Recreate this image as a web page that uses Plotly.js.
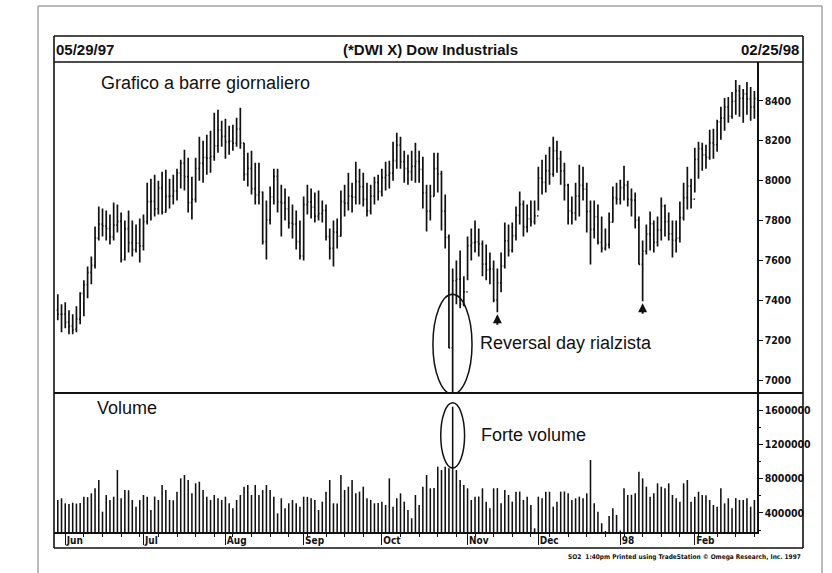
<!DOCTYPE html>
<html><head><meta charset="utf-8">
<script src="https://cdn.plot.ly/plotly-3.0.1.min.js"></script>
<style>html,body{margin:0;padding:0;background:#fff;}#chart{width:832px;height:573px;}</style>
</head><body><div id="chart"></div>
<script>
// Daily bars 05/29/97 - 02/25/98 (one entry per trading day)
const openP = [7350,7330,7330,7290,7270,7255,7305,7435,7478,7539,
7575,7712,7782,7773,7760,7718,7777,7796,7604,7758,
7689,7654,7687,7673,7795,7895,7896,7858,7962,7842,
7921,7922,7948,8038,8088,8020,7890,7906,8061,8088,
8116,8113,8121,8174,8254,8222,8194,8198,8188,8259,
8188,8031,8062,7960,7928,7943,7694,7803,7918,8021,
7893,7887,7859,7787,7782,7694,7622,7880,7894,7867,
7822,7835,7851,7719,7660,7742,7721,7895,7886,7922,
7917,7996,7970,7906,7848,7922,7991,7945,8015,8027,
8038,8100,8178,8095,8061,8045,8072,8096,8057,7938,
7847,7921,8060,8034,7847,7715,7161,7498,7506,7381,
7442,7674,7689,7693,7683,7581,7552,7558,7401,7487,
7572,7698,7650,7724,7826,7881,7767,7808,7794,7823,
8013,7991,8050,8032,8149,8110,8049,7978,7848,7838,
7922,7976,7957,7846,7756,7819,7691,7660,7679,7792,
7915,7908,7965,7978,7906,7902,7802,7580,7647,7732,
7784,7691,7753,7873,7794,7733,7700,7712,7815,7915,
7973,7907,8107,8160,8129,8117,8189,8180,8295,8314,
8369,8323,8398,8451,8413,8435,8410,8370];
const highP = [7430,7380,7390,7350,7330,7370,7440,7500,7570,7620,
7770,7870,7860,7850,7830,7890,7880,7840,7800,7850,
7800,7780,7810,7830,7990,8010,8030,8000,8045,8055,
8010,8030,8060,8105,8155,8115,8020,8115,8220,8200,
8230,8250,8340,8355,8300,8310,8275,8280,8315,8365,
8190,8140,8150,8090,8090,7945,7900,7970,8060,8060,
7980,7960,7920,7880,7850,7800,7920,7980,7960,7940,
7950,7900,7880,7760,7800,7810,7950,7980,8040,7990,
8095,8060,8040,7990,7980,8020,8030,8060,8095,8100,
8195,8240,8220,8150,8130,8150,8190,8150,8120,7980,
7980,8140,8140,8050,7930,7730,7560,7600,7650,7520,
7720,7760,7800,7760,7700,7680,7640,7600,7560,7640,
7790,7780,7790,7870,7945,7900,7880,7900,7900,8070,
8105,8130,8170,8220,8200,8150,8090,7985,7920,7990,
8080,8070,7990,7900,7900,7880,7820,7760,7840,7970,
7990,8005,8075,8000,7960,7940,7820,7700,7780,7845,
7800,7820,7915,7880,7840,7800,7800,7895,7990,8070,
8010,8165,8195,8190,8180,8255,8260,8305,8370,8415,
8420,8445,8505,8480,8460,8495,8470,8450];
const lowP = [7300,7240,7260,7230,7230,7240,7280,7320,7410,7480,
7560,7700,7720,7700,7680,7700,7740,7590,7600,7640,
7620,7640,7590,7650,7780,7800,7820,7830,7830,7840,
7860,7880,7900,7960,7950,7840,7805,7890,8000,7990,
8030,8040,8100,8140,8170,8110,8130,8150,8170,8160,
8000,7970,7930,7880,7880,7680,7605,7780,7880,7840,
7720,7800,7760,7710,7655,7605,7600,7830,7810,7790,
7800,7790,7700,7605,7570,7660,7720,7820,7850,7840,
7880,7880,7870,7820,7830,7880,7900,7920,7950,7960,
8000,8060,8060,7990,7980,8000,7990,7990,7860,7745,
7800,7920,7940,7750,7660,7160,6940,7380,7360,7370,
7500,7600,7640,7620,7520,7500,7480,7390,7340,7440,
7560,7620,7640,7700,7780,7720,7740,7770,7780,7850,
7930,7940,7980,8020,8040,7980,7900,7780,7780,7800,
7820,7900,7740,7580,7710,7680,7640,7650,7660,7790,
7880,7880,7900,7870,7820,7760,7580,7395,7630,7650,
7640,7670,7700,7720,7700,7615,7640,7690,7800,7855,
7860,7940,8010,8050,8060,8105,8110,8145,8205,8250,
8290,8310,8330,8320,8290,8330,8300,8310];
const closeP = [7330,7331,7289,7269,7251,7305,7435,7478,7539,7575,
7712,7782,7773,7760,7718,7777,7796,7604,7758,7689,
7654,7687,7673,7795,7895,7896,7858,7962,7842,7921,
7922,7948,8038,8088,8020,7890,7906,8061,8088,8116,
8113,8121,8174,8254,8222,8194,8198,8188,8259,8188,
8031,8062,7960,7928,7943,7694,7803,7918,8021,7893,
7887,7859,7787,7782,7694,7622,7880,7894,7867,7822,
7835,7851,7719,7660,7742,7721,7895,7886,7922,7917,
7996,7970,7906,7848,7922,7991,7945,8015,8027,8038,
8100,8178,8095,8061,8045,8072,8096,8057,7938,7847,
7921,8060,8034,7847,7715,7161,7498,7506,7381,7442,
7674,7689,7693,7683,7581,7552,7558,7401,7487,7572,
7698,7650,7724,7826,7881,7767,7808,7794,7823,8013,
7991,8050,8032,8149,8110,8049,7978,7848,7838,7922,
7976,7957,7846,7756,7819,7691,7660,7679,7792,7915,
7908,7965,7978,7906,7902,7802,7580,7647,7732,7784,
7691,7753,7873,7794,7733,7700,7712,7815,7915,7973,
7907,8107,8160,8129,8117,8189,8180,8295,8314,8369,
8323,8398,8451,8413,8435,8410,8370,8413];
const volume = [552000,571000,513000,505000,520000,510000,515000,590000,585000,629000,
688000,785000,415000,610000,552000,590000,901000,571000,668000,665000,
552000,474000,550000,610000,590000,435000,592000,552000,727000,668000,
552000,548000,649000,804000,843000,785000,629000,746000,765000,668000,
590000,552000,610000,571000,552000,590000,513000,455000,552000,610000,
707000,727000,610000,727000,610000,668000,727000,668000,590000,396000,
571000,455000,513000,552000,513000,474000,590000,588000,571000,552000,
435000,532000,649000,785000,513000,510000,843000,668000,707000,785000,
629000,649000,707000,571000,552000,513000,515000,532000,493000,804000,
474000,571000,629000,532000,435000,338000,610000,493000,707000,843000,
688000,690000,940000,901000,940000,921000,1640000,901000,785000,727000,
688000,552000,590000,592000,688000,532000,455000,688000,690000,513000,
668000,610000,532000,649000,650000,552000,590000,493000,221000,590000,
571000,649000,648000,474000,532000,649000,651000,629000,552000,571000,
590000,573000,629000,1018000,513000,415000,280000,190000,365000,455000,
377000,195000,688000,610000,612000,629000,882000,804000,707000,590000,
629000,746000,707000,688000,746000,610000,571000,532000,746000,785000,
532000,590000,649000,610000,608000,552000,493000,474000,688000,513000,
571000,455000,573000,552000,550000,571000,474000,552000];

// Axis labels
const monthTickIdx = [2,23,45,66,87,110,129,151,171];
const monthLabels = ['Jun','Jul','Aug','Sep','Oct','Nov','Dec','98','Feb'];
const arrowIdx = [118,157];

const dayIdx = openP.map((_, i) => i);
const revIdx = lowP.indexOf(Math.min(...lowP));

// pixel -> paper helpers for decorations (plot area: x 54..757, y 62..532)
const PX = x => (x - 54) / 703;
const PY = y => (532 - y) / 470;

const FONT = 'Liberation Sans, Arial, Helvetica, sans-serif';
const TICKFONT = 'DejaVu Sans Condensed, Liberation Sans Narrow, Arial Narrow, sans-serif';

const traces = [
  {
    type: 'ohlc', x: dayIdx, open: openP, high: highP, low: lowP, close: closeP,
    xaxis: 'x', yaxis: 'y', tickwidth: 0.3, hoverinfo: 'skip',
    increasing: {line: {color: '#111', width: 1.7}},
    decreasing: {line: {color: '#111', width: 1.7}}
  },
  {
    type: 'bar', x: dayIdx, y: volume, xaxis: 'x', yaxis: 'y2', width: 0.42,
    marker: {color: '#111', line: {width: 0}}, hoverinfo: 'skip'
  }
];

const line = (x0, y0, x1, y1, w, c) => ({type: 'line', xref: 'paper', yref: 'paper',
  x0: PX(x0), y0: PY(y0), x1: PX(x1), y1: PY(y1), line: {color: c || '#111', width: w}});

const shapes = [
  // page outline
  line(38, 6, 822, 6, 1, '#777'), line(38, 6, 38, 573, 1, '#777'), line(822, 6, 822, 573, 1, '#777'),
  // chart frame
  line(54, 36, 803, 36, 1.6), line(54, 36, 54, 548, 1.6), line(803, 36, 803, 548, 1.6),
  line(54, 548, 803, 548, 1.6), line(54, 62, 803, 62, 1.6), line(54, 393, 803, 393, 2),
  // ellipses
  {type: 'circle', xref: 'x', yref: 'y', x0: revIdx - 5.3, x1: revIdx + 5.2,
   y0: lowP[revIdx] - 10, y1: lowP[revIdx] + 490, line: {color: '#111', width: 1.5}},
  {type: 'circle', xref: 'x', yref: 'y2', x0: revIdx - 3.2, x1: revIdx + 3.2,
   y0: volume[revIdx] - 715000, y1: volume[revIdx] + 45000, line: {color: '#111', width: 1.5}}
];

const ann = (x, y, text, size, anchor, weight) => ({xref: 'paper', yref: 'paper', x: PX(x), y: PY(y),
  text: text, showarrow: false, xanchor: anchor, yanchor: 'middle',
  font: {family: FONT, size: size, color: '#111', weight: weight || 'normal'}});

const annotations = [
  ann(54, 50, '05/29/97', 15, 'left', 'bold'),
  ann(430, 50, '(*DWI X) Dow Industrials', 15, 'center', 'bold'),
  ann(801, 50, '02/25/98', 15, 'right', 'bold'),
  ann(99, 83, 'Grafico a barre giornaliero', 18, 'left'),
  ann(478, 343, 'Reversal day rialzista', 18, 'left'),
  ann(95, 408, 'Volume', 18, 'left'),
  ann(479, 435, 'Forte volume', 18, 'left'),
  {xref: 'paper', yref: 'paper', x: PX(803), y: PY(557), xanchor: 'right', yanchor: 'middle',
   showarrow: false, text: 'SO2  1:40pm Printed using TradeStation \u00a9 Omega Research, Inc. 1997',
   font: {family: TICKFONT, size: 6.5, color: '#111', weight: 'bold'}}
].concat(arrowIdx.map(i => ({
  xref: 'x', yref: 'y', x: i, y: lowP[i], ax: 0, ay: 14, text: '', showarrow: true,
  arrowhead: 2, arrowsize: 0.9, arrowwidth: 2, arrowcolor: '#111', standoff: 2
})));

const layout = {
  width: 832, height: 573, autosize: false,
  margin: {l: 54, r: 75, t: 62, b: 41, pad: 0},
  paper_bgcolor: '#fff', plot_bgcolor: '#fff', showlegend: false, dragmode: false,
  xaxis: {
    anchor: 'y2', range: [-1.02, 187.7], rangeslider: {visible: false},
    showgrid: false, zeroline: false, showline: true, linecolor: '#111', linewidth: 1.6,
    tickmode: 'array', tickvals: monthTickIdx, ticktext: monthLabels,
    ticks: 'outside', ticklen: 11, tickwidth: 1.2, tickcolor: '#111',
    ticklabelposition: 'outside right', ticklabelstandoff: -2,
    tickfont: {family: TICKFONT, size: 10, color: '#111', weight: 'bold'},
    minor: {ticks: 'outside', ticklen: 3, tickwidth: 1, tickcolor: '#111', dtick: 5, tick0: 2}
  },
  yaxis: {
    domain: [PY(393), 1], anchor: 'x', side: 'right', range: [6935, 8595],
    showgrid: false, zeroline: false, showline: true, linecolor: '#111', linewidth: 1.6,
    tickmode: 'linear', tick0: 7000, dtick: 200, ticks: 'outside', ticklen: 4, tickcolor: '#111',
    tickfont: {family: TICKFONT, size: 10.5, color: '#111', weight: 'bold'}
  },
  yaxis2: {
    domain: [0, PY(393)], anchor: 'x', side: 'right', range: [178000, 1800000],
    showgrid: false, zeroline: false, showline: true, linecolor: '#111', linewidth: 1.6,
    tickmode: 'linear', tick0: 0, dtick: 400000, tickformat: 'd',
    ticks: 'outside', ticklen: 4, tickcolor: '#111',
    tickfont: {family: TICKFONT, size: 10.5, color: '#111', weight: 'bold'},
    minor: {ticks: 'outside', ticklen: 2, tickcolor: '#111', dtick: 200000}
  },
  shapes: shapes, annotations: annotations
};

Plotly.newPlot('chart', traces, layout, {staticPlot: true, displayModeBar: false});
</script></body></html>
